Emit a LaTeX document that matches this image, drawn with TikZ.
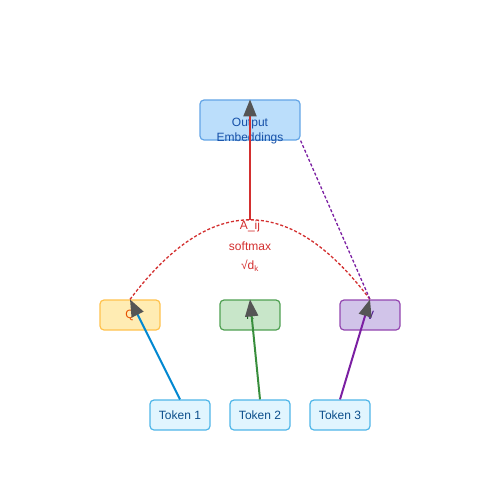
\documentclass[tikz,border=0pt]{standalone}
\usepackage{fontspec}
\setmainfont{Liberation Sans}
\usetikzlibrary{arrows.meta,positioning,calc}
\definecolor{outfill}{HTML}{BBDEFB}
\definecolor{outline}{HTML}{64A5E6}
\definecolor{outtext}{HTML}{1550A8}
\definecolor{qfill}{HTML}{FFECB3}
\definecolor{qline}{HTML}{FFC24D}
\definecolor{qtext}{HTML}{E65100}
\definecolor{kfill}{HTML}{C8E6C9}
\definecolor{kline}{HTML}{4FA052}
\definecolor{ktext}{HTML}{1B5E20}
\definecolor{vfill}{HTML}{D1C4E9}
\definecolor{vline}{HTML}{9346B0}
\definecolor{vtext}{HTML}{4A148C}
\definecolor{tokfill}{HTML}{E1F5FE}
\definecolor{tokline}{HTML}{4FB6E8}
\definecolor{toktext}{HTML}{0D4F8C}
\definecolor{tokblue}{HTML}{0288D1}
\definecolor{tokgreen}{HTML}{388E3C}
\definecolor{tokpurple}{HTML}{7B1FA2}
\definecolor{attnred}{HTML}{D32F2F}
\definecolor{tipgray}{HTML}{555555}

\begin{document}
\begin{tikzpicture}[x=1pt, y=-1pt, >={Triangle[length=17pt,width=13pt,color=tipgray]},
   font=\fontsize{12}{15}\selectfont,
   box/.style={draw, line width=1.2pt, rounded corners=4pt, minimum width=60pt,
     minimum height=30pt, inner sep=0pt, align=center},
   tok/.style={box, fill=tokfill, draw=tokline, text=toktext},
   redtext/.style={text=attnred, inner sep=0pt}]
  \useasboundingbox (0,0) rectangle (500,500);
  \node[box, fill=outfill, draw=outline, minimum width=100pt, minimum height=40pt,
    label={[text=outtext, align=center, yshift=-11pt]center:Output\\Embeddings}] (out) at (250,120) {};
  \node[box, fill=qfill, draw=qline, text=qtext] (q) at (130,315) {Q};
  \node[box, fill=kfill, draw=kline, text=ktext] (k) at (250,315) {K};
  \node[box, fill=vfill, draw=vline, text=vtext] (v) at (370,315) {V};
  \node[tok] (tok1) at (180,415) {Token 1};
  \node[tok] (tok2) at (260,415) {Token 2};
  \node[tok] (tok3) at (340,415) {Token 3};
  \node[redtext] (aij) at (250,226) {A\_ij};
  \node[redtext] (smax) at (250,246) {softmax};
  \node[redtext] (sqd) at (250,266) {√d\textsubscript{k}};
  \coordinate (peak) at (250,220);
  % attention arc and value link
  \draw[attnred, line width=1.3pt, dash pattern=on 3pt off 2pt] (q.north) .. controls (210,193.3) and (290,193.3) .. (v.north);
  \draw[tokpurple, line width=1.3pt, dash pattern=on 3pt off 2pt] (out.south east) -- (v.north);
  \draw[->, attnred, line width=2pt] (peak) -- (out.north);
  % token projections
  \draw[->, tokblue, line width=2pt] (tok1.north) -- (q.north);
  \draw[->, tokgreen, line width=2pt] (tok2.north) -- (k.north);
  \draw[->, tokpurple, line width=2pt] (tok3.north) -- (v.north);
\end{tikzpicture}
\end{document}
